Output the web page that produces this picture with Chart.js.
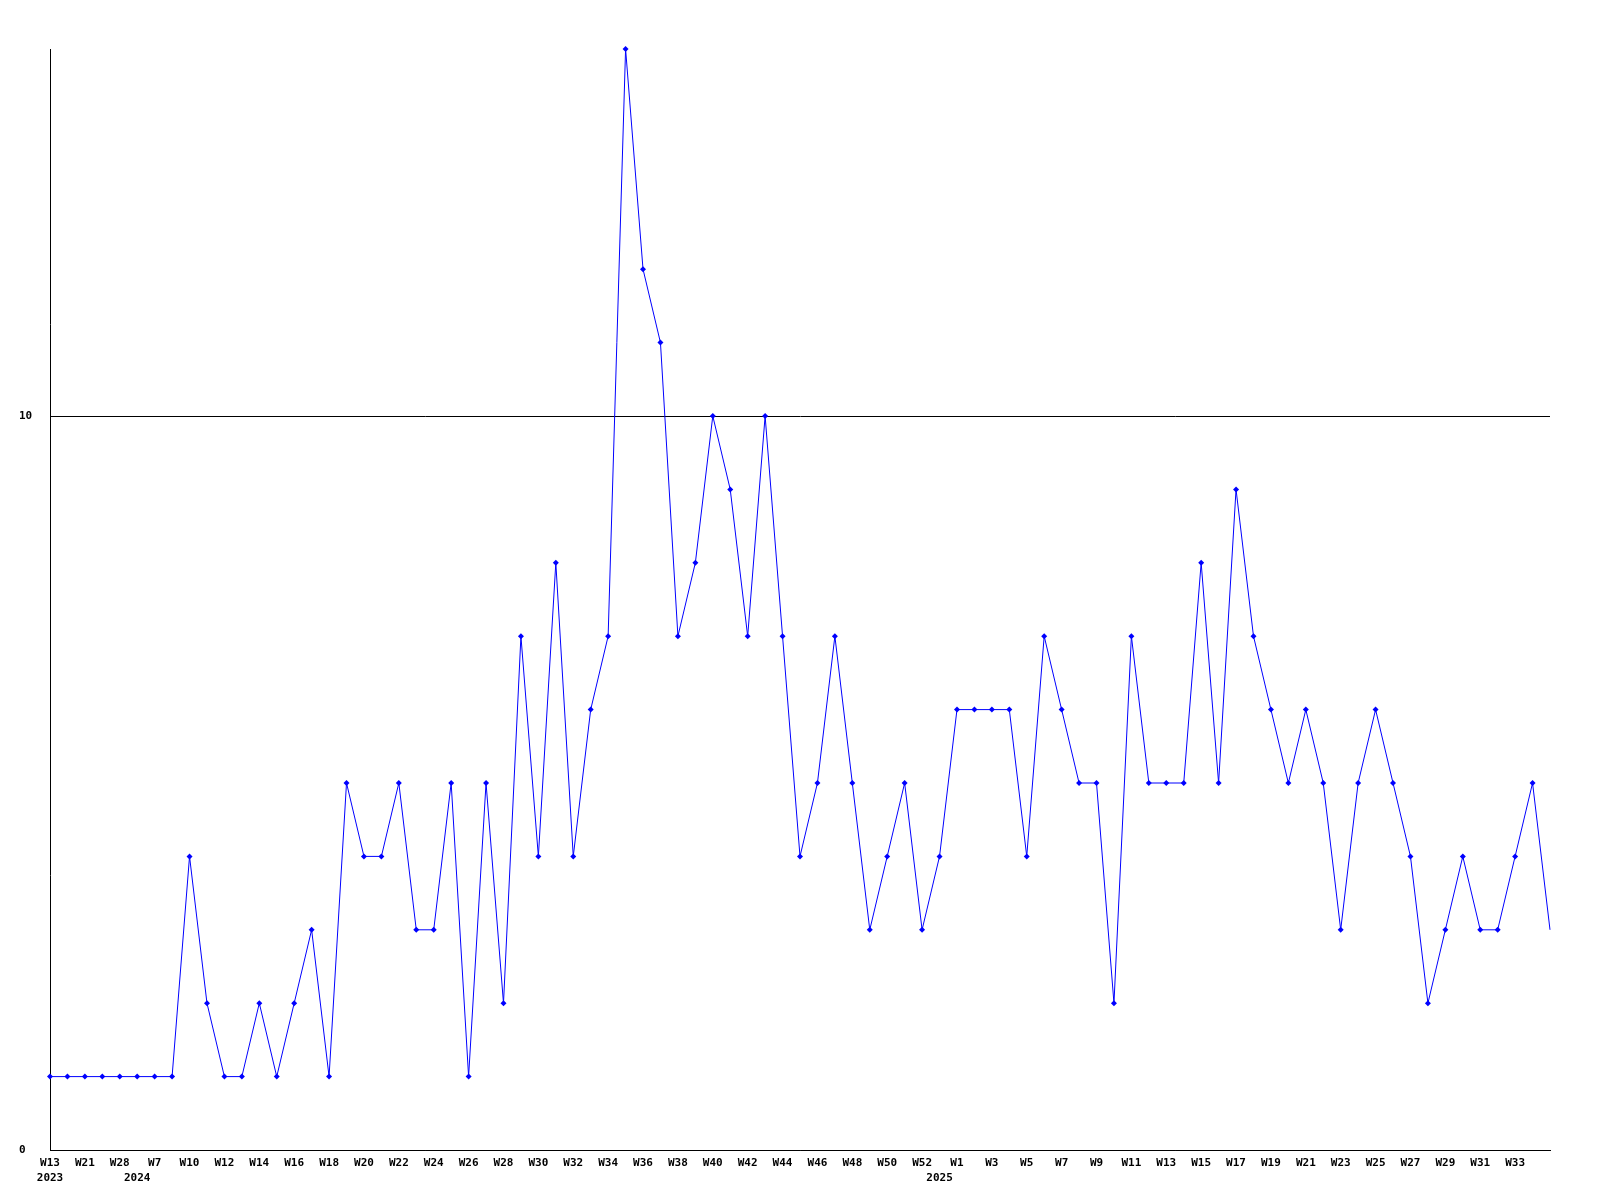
<!DOCTYPE html>
<html>
<head>
<meta charset="utf-8">
<style>
  html, body { margin: 0; padding: 0; background: #ffffff; }
  #wrap { width: 1600px; height: 1200px; position: relative; }
</style>
<script src="https://cdn.jsdelivr.net/npm/chart.js@4/dist/chart.umd.min.js"></script>
</head>
<body>
<div id="wrap"><canvas id="c" width="1600" height="1200"></canvas></div>
<script>
// Week tick labels (blank where the reference shows no label)
const weekLabels = [
  "W13","","W21","","W28","","W7","",
  "W10","","W12","","W14","","W16","","W18","","W20","","W22","","W24","","W26","","W28","",
  "W30","","W32","","W34","","W36","","W38","","W40","","W42","","W44","","W46","","W48","",
  "W50","","W52","","W1","","W3","","W5","","W7","","W9","","W11","","W13","","W15","",
  "W17","","W19","","W21","","W23","","W25","","W27","","W29","","W31","","W33","",""
];
// Year labels shown on the second row
const yearLabels = weekLabels.map(() => "");
yearLabels[0] = "2023";
yearLabels[5] = "2024";
yearLabels[51] = "2025";

// Weekly values
const values = [
  1,1,1,1,1,1,1,1,
  4,2,1,1,2,1,2,3,1,5,4,4,5,3,3,5,1,5,2,7,4,8,4,6,7,
  15,12,11,7,8,10,9,7,10,7,4,5,7,5,3,4,5,3,4,
  6,6,6,6,4,7,6,5,5,2,7,5,5,5,8,5,9,7,6,5,6,5,3,5,6,5,4,2,3,4,3,3,4,5,3
];

// Y axis ticks shown
const yTicks = [0, 10];
const yMax = 15;

const categories = weekLabels.map((w, i) => [w, yearLabels[i]]);
const lastIdx = values.length - 1;

new Chart(document.getElementById('c'), {
  type: 'line',
  data: {
    labels: categories,
    datasets: [{
      data: values,
      borderColor: '#0000ff',
      backgroundColor: '#0000ff',
      borderWidth: 1,
      tension: 0,
      fill: false,
      clip: false,
      pointStyle: 'rectRot',
      pointRadius: (ctx) => ctx.dataIndex === lastIdx ? 0 : 3,
      pointBorderWidth: 0,
      pointBackgroundColor: '#0000ff'
    }]
  },
  options: {
    responsive: false,
    animation: false,
    devicePixelRatio: 1,
    layout: { padding: { left: 19, right: 50, top: 49, bottom: 0 } },
    plugins: { legend: { display: false }, tooltip: { enabled: false } },
    scales: {
      x: {
        type: 'category',
        offset: false,
        grid: { display: false, drawTicks: false },
        border: { display: true, color: '#000000', width: 1 },
        ticks: {
          autoSkip: false,
          maxRotation: 0,
          minRotation: 0,
          padding: 6,
          color: '#000000',
          font: { family: 'DejaVu Sans Mono', size: 11, weight: 'bold', lineHeight: 1.33 }
        },
        afterFit: (s) => { s.height = 50; }
      },
      y: {
        type: 'linear',
        min: 0,
        max: yMax,
        grid: { display: true, drawTicks: false, color: '#000000', lineWidth: 1 },
        border: { display: true, color: '#000000', width: 1 },
        afterBuildTicks: (s) => { s.ticks = yTicks.map(v => ({ value: v })); },
        ticks: {
          crossAlign: 'far',
          padding: 0,
          color: '#000000',
          font: { family: 'DejaVu Sans Mono', size: 11, weight: 'bold' }
        },
        afterFit: (s) => { s.width = 31; }
      }
    }
  }
});
</script>
</body>
</html>
